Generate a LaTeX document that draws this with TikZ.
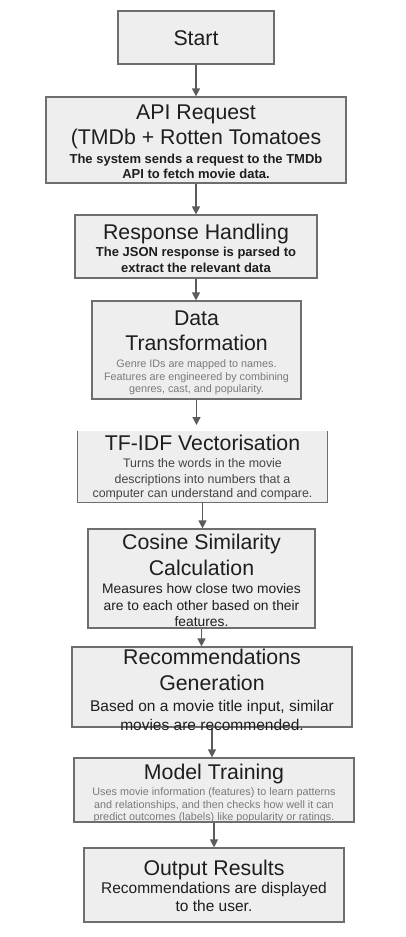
\documentclass[tikz,border=0pt]{standalone}
\usepackage{fontspec}
\setmainfont{Liberation Sans}
\usetikzlibrary{arrows.meta}
\definecolor{boxfill}{HTML}{EEEEEE}
\definecolor{boxdraw}{HTML}{6E6E6E}
\definecolor{arrowc}{HTML}{5C5C5C}
\definecolor{ink}{HTML}{1E1E1E}
\definecolor{greyink}{HTML}{7A7A7A}
\definecolor{midink}{HTML}{444444}
\begin{document}
\begin{tikzpicture}[x=1pt,y=-1pt,
  box/.style={draw=boxdraw, fill=boxfill, line width=1.2pt, rectangle, inner sep=0pt},
  openbox/.style={fill=boxfill, rectangle, inner sep=0pt},
  edgeline/.style={draw=boxdraw, line width=1.2pt},
  ttl/.style={anchor=base, inner sep=0pt, text=ink, font=\fontsize{21.3}{25}\selectfont},
  dbold/.style={anchor=base, inner sep=0pt, text=ink, font=\bfseries\fontsize{13}{15}\selectfont},
  dgrey/.style={anchor=base, inner sep=0pt, text=greyink, font=\fontsize{10.8}{12}\selectfont},
  dmid/.style={anchor=base, inner sep=0pt, text=midink, font=\fontsize{12.4}{14}\selectfont},
  dmed/.style={anchor=base, inner sep=0pt, text=ink, font=\fontsize{13.8}{16}\selectfont},
  dlarge/.style={anchor=base, inner sep=0pt, text=ink, font=\fontsize{15.5}{18}\selectfont},
  flow/.style={draw=arrowc, line width=1.3pt, -{Triangle[width=8pt,length=8pt]}}]
\useasboundingbox (0,0) rectangle (405,937);
\fill[white] (0,0) rectangle (405,937);

% boxes
\node[box, minimum width=156pt, minimum height=53pt] (start) at (196,37.5) {};
\node[box, minimum width=300pt, minimum height=86pt] (api) at (196,140) {};
\node[box, minimum width=242pt, minimum height=63pt] (resp) at (196,246.5) {};
\node[box, minimum width=209pt, minimum height=98pt] (data) at (196.5,350) {};
\node[openbox, minimum width=249pt, minimum height=71pt] (tf) at (202.5,466.5) {};
\draw[edgeline] (tf.north west) -- (tf.south west) -- (tf.south east) -- (tf.north east);
\node[box, minimum width=227pt, minimum height=99pt] (cos) at (201.5,578.5) {};
\node[box, minimum width=280pt, minimum height=80pt] (rec) at (212,687) {};
\node[box, minimum width=280pt, minimum height=64pt] (model) at (214,790) {};
\node[box, minimum width=260pt, minimum height=74pt] (out) at (214,885) {};

% connectors
\coordinate (tfin) at (196.5,425);
\draw[flow] (start.south) -- (start.south |- api.north);
\draw[flow] (api.south) -- (api.south |- resp.north);
\draw[flow] (resp.south) -- (resp.south |- data.north);
\draw[flow] (data.south) -- (tfin);
\draw[flow] (tf.south) -- (tf.south |- cos.north);
\draw[flow] (cos.south) -- (cos.south |- rec.north);
\draw[flow] (rec.south) -- (rec.south |- model.north);
\draw[flow] (model.south) -- (model.south |- out.north);

% texts
\node[ttl] (t0) at (196,45.7) {Start};

\node[ttl] (t1a) at (196,119.5) {API Request};
\node[ttl] (t1b) at (196,144.5) {(TMDb + Rotten Tomatoes};
\node[dbold] (t1c) at (196,163) {The system sends a request to the TMDb};
\node[dbold] (t1d) at (196,178) {API to fetch movie data.};

\node[ttl] (t2a) at (196,239.5) {Response Handling};
\node[dbold] (t2b) at (196,256.5) {The JSON response is parsed to};
\node[dbold] (t2c) at (196,272.5) {extract the relevant data};

\node[ttl] (t3a) at (196.5,325.5) {Data};
\node[ttl] (t3b) at (196.5,350.5) {Transformation};
\node[dgrey] (t3c) at (196.5,367.8) {Genre IDs are mapped to names.};
\node[dgrey] (t3d) at (196.5,380) {Features are engineered by combining};
\node[dgrey] (t3e) at (196.5,392.8) {genres, cast, and popularity.};

\node[ttl] (t4a) at (202.5,450.5) {TF-IDF Vectorisation};
\node[dmid] (t4b) at (202.5,467.3) {Turns the words in the movie};
\node[dmid] (t4c) at (202.5,483) {descriptions into numbers that a};
\node[dmid] (t4d) at (202.5,497.3) {computer can understand and compare.};

\node[ttl] (t5a) at (201.5,549.5) {Cosine Similarity};
\node[ttl] (t5b) at (201.5,575.5) {Calculation};
\node[dmed] (t5c) at (201.5,593.5) {Measures how close two movies};
\node[dmed] (t5d) at (201.5,610) {are to each other based on their};
\node[dmed] (t5e) at (201.5,626) {features.};

\node[ttl] (t6a) at (212,664.5) {Recommendations};
\node[ttl] (t6b) at (212,690.5) {Generation};
\node[dlarge] (t6c) at (212,711) {Based on a movie title input, similar};
\node[dlarge] (t6d) at (212,730) {movies are recommended.};

\node[ttl] (t7a) at (214,779.5) {Model Training};
\node[dgrey] (t7b) at (214,795.8) {Uses movie information (features) to learn patterns};
\node[dgrey] (t7c) at (214,808) {and relationships, and then checks how well it can};
\node[dgrey] (t7d) at (214,820.5) {predict outcomes (labels) like popularity or ratings.};

\node[ttl] (t8a) at (214,875.5) {Output Results};
\node[dlarge] (t8b) at (214,893.4) {Recommendations are displayed};
\node[dlarge] (t8c) at (214,911.4) {to the user.};
\end{tikzpicture}
\end{document}
